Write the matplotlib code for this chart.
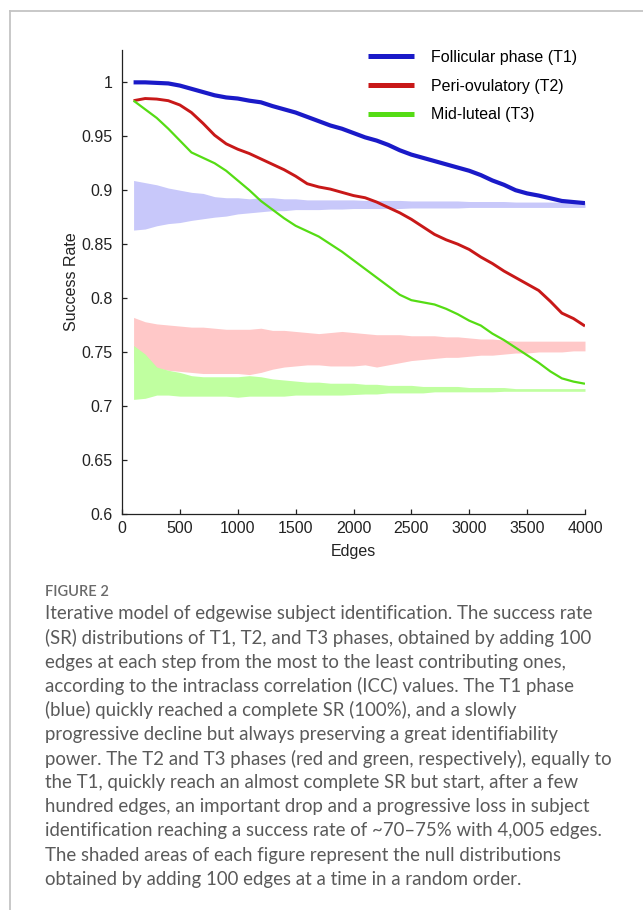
import numpy as np
import matplotlib
matplotlib.use("Agg")
import matplotlib.pyplot as plt
from matplotlib.lines import Line2D

# edges added per step (100 at a time)
edges = np.arange(100, 4001, 100)

# success rate, ICC-ordered edges
sr_t1 = [1.000, 1.000, 0.9995, 0.999, 0.997, 0.994, 0.991, 0.988, 0.986, 0.985,
         0.983, 0.9815, 0.978, 0.975, 0.972, 0.968, 0.964, 0.960, 0.957, 0.953,
         0.949, 0.946, 0.942, 0.937, 0.933, 0.930, 0.927, 0.924, 0.921, 0.918,
         0.914, 0.909, 0.905, 0.900, 0.897, 0.895, 0.8925, 0.890, 0.889, 0.888]
sr_t2 = [0.983, 0.985, 0.9845, 0.983, 0.979, 0.972, 0.962, 0.951, 0.943, 0.938,
         0.934, 0.929, 0.924, 0.919, 0.913, 0.906, 0.903, 0.901, 0.898, 0.895,
         0.893, 0.889, 0.884, 0.879, 0.873, 0.866, 0.859, 0.854, 0.850, 0.845,
         0.838, 0.832, 0.825, 0.819, 0.813, 0.807, 0.797, 0.786, 0.781, 0.774]
sr_t3 = [0.983, 0.975, 0.967, 0.957, 0.946, 0.935, 0.930, 0.925, 0.918, 0.909,
         0.900, 0.890, 0.882, 0.874, 0.867, 0.862, 0.857, 0.850, 0.843, 0.835,
         0.827, 0.819, 0.811, 0.803, 0.798, 0.796, 0.794, 0.790, 0.785, 0.779,
         0.7745, 0.767, 0.761, 0.754, 0.747, 0.740, 0.732, 0.7255, 0.7225, 0.7205]

# null distributions (random edge order): envelope of the shaded areas
null_t1_hi = [0.909, 0.907, 0.905, 0.902, 0.900, 0.898, 0.897, 0.894, 0.893, 0.893,
              0.892, 0.893, 0.893, 0.892, 0.892, 0.891, 0.891, 0.891, 0.891, 0.891,
              0.8905, 0.8905, 0.8905, 0.8905, 0.890, 0.890, 0.890, 0.890, 0.890, 0.8895,
              0.8895, 0.8895, 0.8895, 0.889, 0.889, 0.889, 0.889, 0.889, 0.889, 0.889]
null_t1_lo = [0.863, 0.864, 0.867, 0.869, 0.870, 0.872, 0.8735, 0.875, 0.876, 0.878,
              0.879, 0.880, 0.881, 0.881, 0.882, 0.882, 0.882, 0.8825, 0.8825, 0.883,
              0.883, 0.883, 0.883, 0.883, 0.8835, 0.8835, 0.8835, 0.8835, 0.8835, 0.884,
              0.884, 0.884, 0.884, 0.884, 0.884, 0.884, 0.884, 0.884, 0.884, 0.884]
null_t2_hi = [0.782, 0.778, 0.776, 0.775, 0.774, 0.773, 0.773, 0.772, 0.771, 0.771,
              0.771, 0.772, 0.770, 0.770, 0.769, 0.768, 0.767, 0.768, 0.769, 0.768,
              0.767, 0.766, 0.766, 0.766, 0.765, 0.765, 0.765, 0.764, 0.764, 0.763,
              0.762, 0.762, 0.761, 0.760, 0.760, 0.760, 0.760, 0.760, 0.760, 0.760]
null_t2_lo = [0.740, 0.738, 0.735, 0.733, 0.732, 0.731, 0.730, 0.730, 0.730, 0.730,
              0.729, 0.731, 0.734, 0.736, 0.737, 0.738, 0.738, 0.737, 0.737, 0.737,
              0.738, 0.736, 0.738, 0.740, 0.742, 0.743, 0.744, 0.745, 0.745, 0.746,
              0.747, 0.747, 0.748, 0.749, 0.749, 0.750, 0.750, 0.750, 0.751, 0.751]
null_t3_hi = [0.756, 0.748, 0.736, 0.733, 0.731, 0.728, 0.727, 0.727, 0.727, 0.727,
              0.728, 0.727, 0.725, 0.724, 0.723, 0.722, 0.722, 0.721, 0.721, 0.721,
              0.720, 0.720, 0.719, 0.719, 0.719, 0.718, 0.718, 0.718, 0.718, 0.717,
              0.717, 0.717, 0.717, 0.716, 0.716, 0.716, 0.716, 0.716, 0.716, 0.716]
null_t3_lo = [0.706, 0.707, 0.710, 0.710, 0.709, 0.709, 0.709, 0.709, 0.709, 0.708,
              0.709, 0.709, 0.709, 0.709, 0.710, 0.710, 0.710, 0.710, 0.710, 0.7105,
              0.711, 0.711, 0.712, 0.712, 0.712, 0.712, 0.713, 0.713, 0.713, 0.713,
              0.713, 0.713, 0.7135, 0.7135, 0.7135, 0.7135, 0.7135, 0.7135, 0.7135, 0.7135]

labels = ["Follicular phase (T1)", "Peri-ovulatory (T2)", "Mid-luteal (T3)"]
line_colors = ["#1a1ac8", "#c81818", "#55dc14"]
band_colors = ["#c8c8fa", "#ffc8c8", "#c0ffa0"]

yticks = [0.6, 0.65, 0.7, 0.75, 0.8, 0.85, 0.9, 0.95, 1.0]
ytick_labels = ["0.6", "0.65", "0.7", "0.75", "0.8", "0.85", "0.9", "0.95", "1"]
xticks = [0, 500, 1000, 1500, 2000, 2500, 3000, 3500, 4000]

caption_title = "FIGURE 2"
caption_lines = [
    "Iterative model of edgewise subject identification. The success rate",
    "(SR) distributions of T1, T2, and T3 phases, obtained by adding 100",
    "edges at each step from the most to the least contributing ones,",
    "according to the intraclass correlation (ICC) values. The T1 phase",
    "(blue) quickly reached a complete SR (100%), and a slowly",
    "progressive decline but always preserving a great identifiability",
    "power. The T2 and T3 phases (red and green, respectively), equally to",
    "the T1, quickly reach an almost complete SR but start, after a few",
    "hundred edges, an important drop and a progressive loss in subject",
    "identification reaching a success rate of ~70\u201375% with 4,005 edges.",
    "The shaded areas of each figure represent the null distributions",
    "obtained by adding 100 edges at a time in a random order.",
]

W, H = 643, 910
fig = plt.figure(figsize=(W / 100, H / 100), dpi=100)
plt.rcParams["font.family"] = ["Liberation Sans", "DejaVu Sans"]

# light frame around the figure panel
fig.add_artist(Line2D([10 / W, 1], [1 - 11 / H, 1 - 11 / H], transform=fig.transFigure,
                      color="#c4c4c4", lw=1.3))
fig.add_artist(Line2D([10 / W, 10 / W], [0, 1 - 11 / H], transform=fig.transFigure,
                      color="#c4c4c4", lw=1.3))

ax = fig.add_axes([122 / W, (H - 513.7) / H, 463 / W, 463.7 / H])

for lo, hi, c in zip([null_t1_lo, null_t2_lo, null_t3_lo],
                     [null_t1_hi, null_t2_hi, null_t3_hi], band_colors):
    ax.fill_between(edges, lo, hi, color=c, lw=0)

for sr, c, lw in zip([sr_t1, sr_t2, sr_t3], line_colors, [3.0, 2.1, 1.6]):
    ax.plot(edges, sr, color=c, lw=lw, solid_capstyle="butt")

ax.set_xlim(0, 4000)
ax.set_ylim(0.6, 1.03)
ax.set_xticks(xticks)
ax.set_yticks(yticks)
ax.set_yticklabels(ytick_labels)
for s in ["top", "right"]:
    ax.spines[s].set_visible(False)
for s in ["left", "bottom"]:
    ax.spines[s].set_linewidth(0.9)
    ax.spines[s].set_color("#222222")
ax.tick_params(direction="in", length=3.5, width=0.9, labelsize=11.5, colors="#222222")
ax.tick_params(axis="y", pad=6.5)
ax.tick_params(axis="x", pad=5)
ax.set_xlabel("Edges", fontsize=11.5, labelpad=6, color="#222222")
ax.set_ylabel("Success Rate", fontsize=11.5, labelpad=2, color="#222222")

handles = [Line2D([], [], color=c, lw=3.6, solid_capstyle="butt") for c in line_colors]
fig.legend(handles, labels, loc="upper left", bbox_to_anchor=(368 / W, 1 - 50 / H),
           bbox_transform=fig.transFigure, frameon=False, fontsize=11.5,
           borderpad=0, borderaxespad=0, handlelength=2.9, handletextpad=1.05,
           labelspacing=0.86)

fig.text(45 / W, 1 - 592 / H, caption_title, family=["Lato", "DejaVu Sans"],
         fontsize=10.5, color="#6a6a6a", va="center", weight="semibold")
for i, line in enumerate(caption_lines):
    fig.text(45 / W, 1 - (614 + i * 24.1) / H, line, family=["Lato", "DejaVu Sans"],
             fontsize=13.4, color="#5a5a5a", va="center")

fig.savefig("out.png", dpi=100)
